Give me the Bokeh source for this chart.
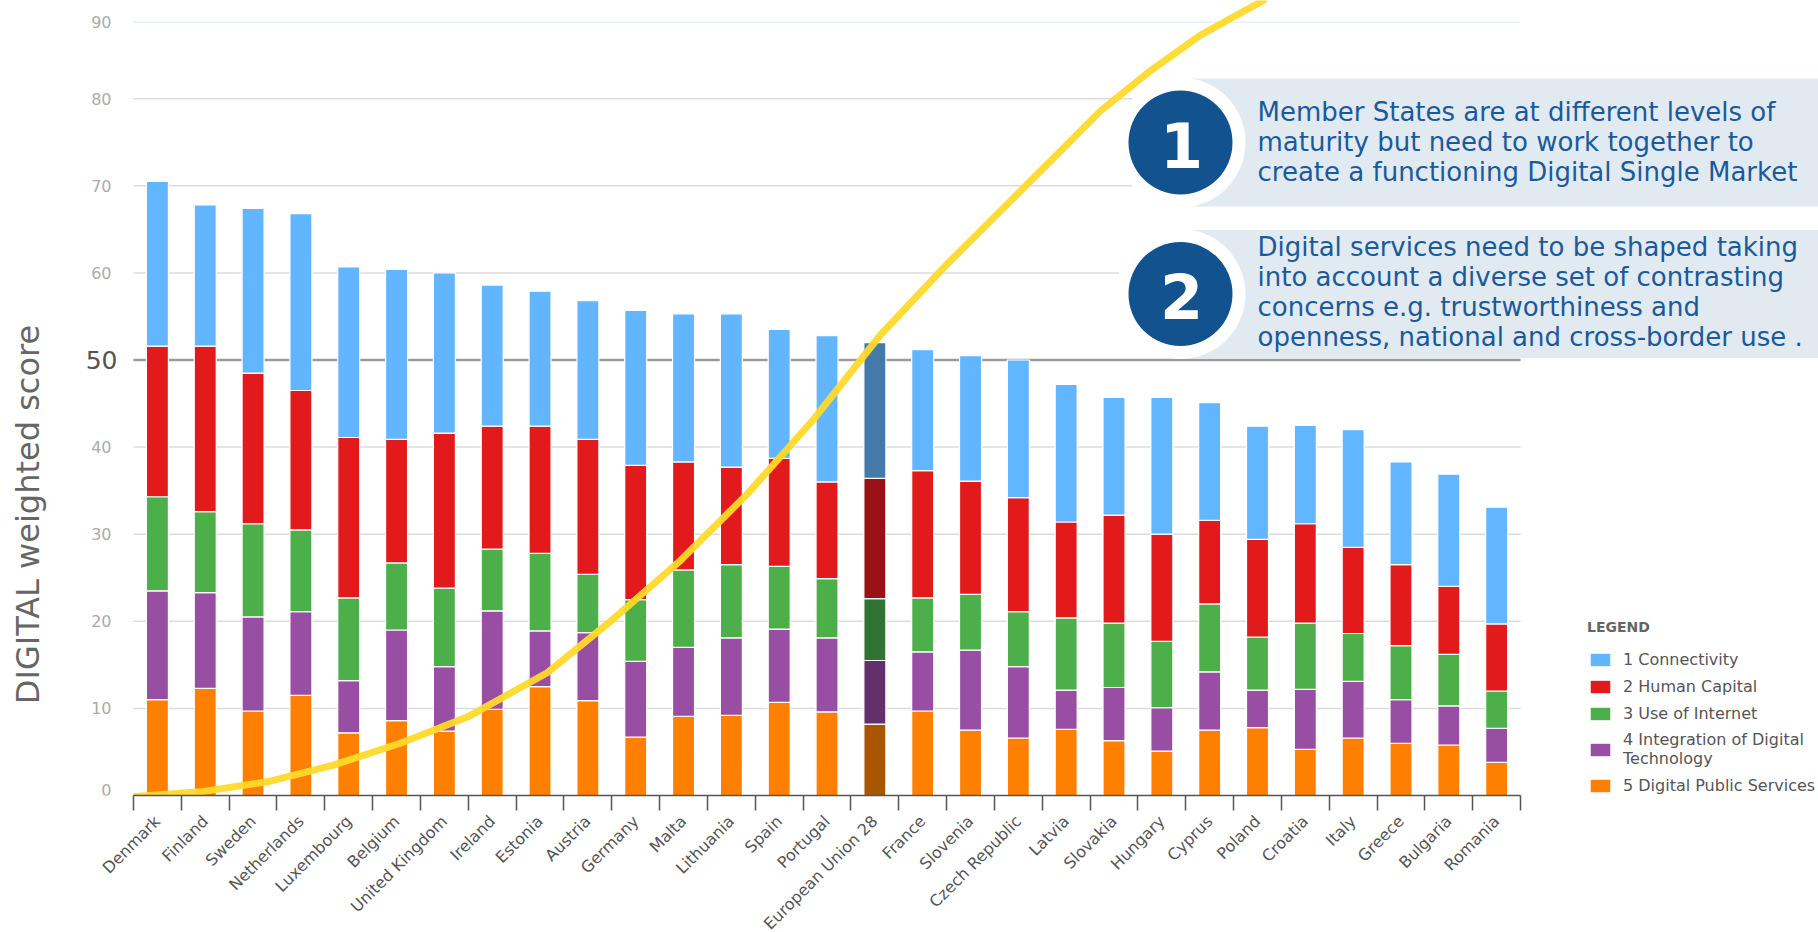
import numpy as np
from math import pi
from bokeh.plotting import figure
from bokeh.models import Range1d, FixedTicker, ColumnDataSource, Legend, LegendItem
from bokeh.core.properties import value
from bokeh.embed import file_html
from bokeh.resources import INLINE

# ---------------- data ----------------
countries = ["Denmark", "Finland", "Sweden", "Netherlands", "Luxembourg", "Belgium",
             "United Kingdom", "Ireland", "Estonia", "Austria", "Germany", "Malta",
             "Lithuania", "Spain", "Portugal", "European Union 28", "France", "Slovenia",
             "Czech Republic", "Latvia", "Slovakia", "Hungary", "Cyprus", "Poland",
             "Croatia", "Italy", "Greece", "Bulgaria", "Romania"]

digital_public_services = [11.0, 12.3, 9.7, 11.5, 7.2, 8.6, 7.4, 9.9, 12.5, 10.9,
                           6.7, 9.1, 9.2, 10.7, 9.6, 8.2, 9.7, 7.5, 6.6, 7.6,
                           6.3, 5.1, 7.5, 7.8, 5.3, 6.6, 6.0, 5.8, 3.8]
integration_of_digital_technology = [12.5, 11.0, 10.8, 9.6, 6.0, 10.4, 7.4, 11.3, 6.4, 7.8,
                                     8.7, 7.9, 8.9, 8.4, 8.5, 7.3, 6.8, 9.2, 8.2, 4.5,
                                     6.1, 5.0, 6.7, 4.3, 6.9, 6.5, 5.0, 4.5, 3.9]
use_of_internet = [10.8, 9.3, 10.7, 9.4, 9.5, 7.7, 9.0, 7.1, 8.9, 6.7,
                   7.1, 8.9, 8.4, 7.2, 6.8, 7.1, 6.2, 6.4, 6.3, 8.3,
                   7.4, 7.6, 7.8, 6.1, 7.6, 5.5, 6.2, 5.9, 4.3]
human_capital = [17.3, 19.0, 17.3, 16.0, 18.4, 14.2, 17.8, 14.1, 14.6, 15.5,
                 15.4, 12.4, 11.2, 12.4, 11.1, 13.8, 14.6, 13.0, 13.1, 11.0,
                 12.4, 12.3, 9.6, 11.2, 11.4, 9.9, 9.3, 7.8, 7.7]
connectivity = [18.9, 16.2, 18.9, 20.3, 19.6, 19.5, 18.4, 16.2, 15.5, 15.9,
                17.8, 17.0, 17.6, 14.8, 16.8, 15.6, 13.9, 14.4, 15.8, 15.8,
                13.5, 15.7, 13.5, 13.0, 11.3, 13.5, 11.8, 12.9, 13.4]

series_labels = ["5 Digital Public Services", "4 Integration of Digital\nTechnology",
                 "3 Use of Internet", "2 Human Capital", "1 Connectivity"]
highlight = "European Union 28"

y_tick_values = [0, 10, 20, 30, 40, 60, 70, 80]
emphasis_tick = 50
top_tick_label = "90"
y_axis_title = "DIGITAL weighted score"

# decorative S-curve (x in category units)
curve_x = [0.05, 1.40, 2.80, 4.18, 5.58, 6.98, 8.65, 10.04, 11.44, 12.83, 14.22,
           15.62, 17.01, 18.40, 19.31, 20.22, 21.26, 22.31, 23.63]
curve_y = [-0.1, 0.42, 1.57, 3.49, 6.0, 9.0, 14.1, 20.3, 27.0, 34.6, 43.2,
           52.9, 61.0, 68.6, 73.6, 78.6, 83.2, 87.3, 91.3]

callout_numbers = ["1", "2"]
callout_lines = [
    ["Member States are at different levels of",
     "maturity but need to work together to",
     "create a functioning Digital Single Market"],
    ["Digital services need to be shaped taking",
     "into account a diverse set of contrasting",
     "concerns e.g. trustworthiness and",
     "openness, national and cross-border use ."],
]

# ---------------- styling / layout ----------------
base_colors = ["#FF8000", "#984EA3", "#4DAF4A", "#E31A1C", "#62B5FF"]
dark_colors = ["#A85600", "#62306B", "#2F7432", "#9A1216", "#4479A9"]

PAGE_W, PAGE_H = 1818, 932
AXIS_Y_PAGE = 795.0          # page y of value 0
BAR_LEFT_PAGE = 133.0        # page x of the first category boundary
PX_PER_CAT, PX_PER_UNIT = 47.83, 8.71


def px_x(px):
    return (px - BAR_LEFT_PAGE) / PX_PER_CAT


def px_y(py):
    return (AXIS_Y_PAGE - py) / PX_PER_UNIT


n = len(countries)
centers = [i + 0.5 for i in range(n)]
top_grid = px_y(21.7)
zero_label_y = px_y(AXIS_Y_PAGE - 6)   # keep the "0" label fully above the axis line

p = figure(frame_width=PAGE_W, frame_height=int(AXIS_Y_PAGE),
           x_range=Range1d(px_x(0), px_x(PAGE_W)),
           y_range=Range1d(0, px_y(0)),
           output_backend="svg", toolbar_location=None,
           min_border_left=0, min_border_right=0, min_border_top=0,
           min_border_bottom=PAGE_H - int(AXIS_Y_PAGE))
p.outline_line_color = None
p.xgrid.visible = False
p.ygrid.visible = False
p.yaxis.visible = False

# gridlines (limited to bar area)
grid_y = [v for v in y_tick_values if v > 0]
p.segment(x0=[0] * len(grid_y), x1=[n] * len(grid_y), y0=grid_y, y1=grid_y,
          line_color="#DCDCDC", line_width=1.5)
p.segment(x0=[0], x1=[n], y0=[top_grid], y1=[top_grid], line_color="#E3F2F9", line_width=1.5)
p.segment(x0=[0], x1=[n], y0=[emphasis_tick], y1=[emphasis_tick],
          line_color="#9B9B9B", line_width=2.5)

# y tick labels and title (drawn as text so they can be styled individually)
label_y = [zero_label_y if v == 0 else v for v in y_tick_values] + [top_grid]
p.text(x=[px_x(111)] * len(label_y), y=label_y,
       text=[str(v) for v in y_tick_values] + [top_tick_label],
       text_font=value("DejaVu Sans"), text_font_size="16px", text_color="#ABABAB",
       text_align="right", text_baseline="middle")
p.text(x=[px_x(117)], y=[emphasis_tick], text=[str(emphasis_tick)],
       text_font=value("DejaVu Sans"), text_font_size="25px", text_color="#555555",
       text_align="right", text_baseline="middle")
p.text(x=[px_x(27)], y=[px_y(514)], text=[y_axis_title], angle=pi / 2,
       text_font=value("DejaVu Sans"), text_font_size="32px", text_color="#666666",
       text_align="center", text_baseline="middle")

# stacked bars
series = [digital_public_services, integration_of_digital_technology,
          use_of_internet, human_capital, connectivity]
bottom = np.zeros(n)
renderers = []
for k, vals in enumerate(series):
    vals = np.array(vals, dtype=float)
    top = bottom + vals
    cols = [dark_colors[k] if c == highlight else base_colors[k] for c in countries]
    src = ColumnDataSource(dict(x=centers, bottom=bottom.copy(), top=top, color=cols))
    r = p.vbar(x="x", bottom="bottom", top="top", width=0.46, source=src,
               fill_color="color", line_color="white", line_width=1.2)
    renderers.append(r)
    bottom = top

# yellow S-curve
p.line(curve_x, curve_y, line_color="#FFD92A", line_width=7, line_cap="round", line_alpha=0.95)

# callout banners
callout_centers = [142.0, 293.5]
first_baselines = [111.0, 246.0]
for num, lines, cy, fb in zip(callout_numbers, callout_lines, callout_centers, first_baselines):
    p.quad(left=[px_x(1180)], right=[px_x(1900)], top=[px_y(cy - 64)], bottom=[px_y(cy + 64)],
           fill_color="#E1E9F1", line_color=None)
    p.scatter(x=[px_x(1180)], y=[px_y(cy)], size=130, marker="circle",
              fill_color="white", line_color=None)
    p.scatter(x=[px_x(1180)], y=[px_y(cy)], size=104, marker="circle",
              fill_color="#11528F", line_color=None)
    p.text(x=[px_x(1181)], y=[px_y(cy + 2)], text=[num], text_font=value("DejaVu Sans"),
           text_font_size="62px", text_font_style="bold", text_color="white",
           text_align="center", text_baseline="middle")
    p.text(x=[px_x(1257)] * len(lines), y=[px_y(fb + 30.0 * j) for j in range(len(lines))],
           text=lines, text_font=value("DejaVu Sans"), text_font_size="26px",
           text_color="#1A5A9B", text_align="left", text_baseline="alphabetic")

# x axis
xa = p.xaxis[0]
xa.bounds = (0, n)
xa.ticker = FixedTicker(ticks=centers, minor_ticks=list(range(n + 1)))
xa.major_label_overrides = {c: name for c, name in zip(centers, countries)}
xa.major_label_orientation = pi / 4
xa.major_tick_line_color = None
xa.major_tick_out = 0
xa.major_tick_in = 0
xa.minor_tick_line_color = "#555555"
xa.minor_tick_line_width = 1.5
xa.minor_tick_out = 15
xa.minor_tick_in = 0
xa.axis_line_color = "#555555"
xa.axis_line_width = 1.5
xa.major_label_text_font = "DejaVu Sans"
xa.major_label_text_font_size = "16px"
xa.major_label_text_color = "#555555"
xa.major_label_standoff = 8

# legend
items = [LegendItem(label=series_labels[k], renderers=[renderers[k]], index=0)
         for k in range(len(series) - 1, -1, -1)]
legend = Legend(items=items, title="LEGEND", location=(1587, 0),
                padding=0, margin=0, border_line_color=None, background_fill_alpha=0,
                glyph_width=26, glyph_height=17, label_height=20, spacing=7, label_standoff=10,
                label_text_font="DejaVu Sans", label_text_font_size="16px",
                label_text_color="#555555",
                title_text_font="DejaVu Sans", title_text_font_size="14px",
                title_text_font_style="bold", title_text_color="#666666", title_standoff=14)
p.add_layout(legend)

open("out.html", "w").write(file_html(p, INLINE))
